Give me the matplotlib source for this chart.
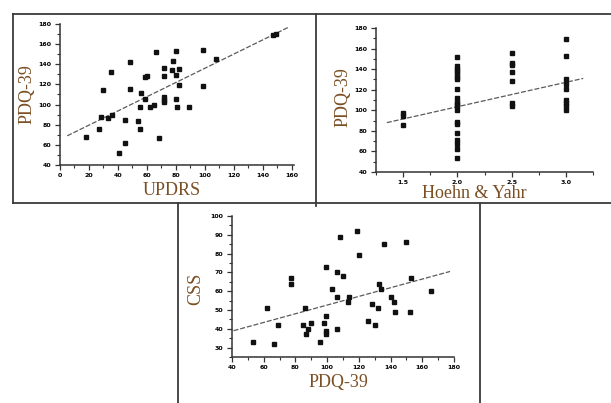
import numpy as np
import matplotlib
matplotlib.use("Agg")
import matplotlib.pyplot as plt
from matplotlib.lines import Line2D
from matplotlib.ticker import MultipleLocator

# panel 1: UPDRS vs PDQ-39
updrs = [18, 27, 28, 30, 33, 35, 36, 41, 45, 45, 48, 48, 54, 55, 55, 56, 59, 60,
         59, 62, 65, 66, 68, 72, 72, 72, 72, 72, 77, 78, 80, 80, 80, 81, 82, 82,
         89, 99, 99, 108, 147, 149]
pdq_u = [68, 76, 88, 114, 87, 132, 90, 52, 85, 62, 142, 115, 84, 76, 98, 111,
         127, 128, 106, 98, 100, 152, 67, 128, 136, 108, 105, 103, 134, 143, 153,
         129, 106, 98, 135, 119, 98, 154, 118, 145, 169, 170]
trend_u_x = [5, 158]
trend_u_y = [69, 177]

# panel 2: Hoehn & Yahr stage vs PDQ-39
hy_stages = [1.5, 2.0, 2.5, 3.0]
pdq_by_stage = [
    [97, 94, 86],
    [152, 143, 140, 138, 135, 132, 130, 121, 112, 108, 106, 104, 100, 89, 87,
     78, 71, 67, 62, 54],
    [156, 146, 144, 137, 128, 107, 104],
    [169, 153, 130, 126, 121, 110, 107, 104, 100],
]
trend_h_x = [1.35, 3.16]
trend_h_y = [88, 131]

# panel 3: PDQ-39 vs CSS
pdq_c = [53, 62, 66.5, 69, 77, 77, 85, 86, 86.5, 88, 90, 95.5, 98, 99, 99, 99,
         99, 103, 106, 106, 106, 108, 110, 113, 114, 119, 120, 126, 128, 130,
         132, 133, 134, 136, 140, 142, 143, 150, 152, 153, 165.5]
css = [33, 51, 32, 42, 67, 64, 42, 51, 37, 40, 43, 33, 43, 73, 47, 39, 37, 61,
       70, 57, 40, 89, 68, 54, 57, 92, 79, 44, 53, 42, 51, 64, 61, 85, 57, 54,
       49, 86, 49, 67, 60]
trend_c_x = [41, 177.5]
trend_c_y = [39, 70.5]

W, H = 611, 403
label_color = "#7b4f24"
serif = "Liberation Serif"


def px_axes(fig, left, right, top, bottom):
    return fig.add_axes([left / W, 1 - bottom / H, (right - left) / W, (bottom - top) / H])


def style(ax):
    for s in ["top", "right"]:
        ax.spines[s].set_visible(False)
    for s in ["left", "bottom"]:
        ax.spines[s].set_color("#333333")
        ax.spines[s].set_linewidth(1.1)
    ax.tick_params(which="major", length=3.5, width=0.9, color="#333333",
                   labelsize=4.5, pad=2.5)
    ax.tick_params(which="minor", length=2.5, width=0.8, color="#333333")
    for lab in ax.get_xticklabels() + ax.get_yticklabels():
        lab.set_fontweight("bold")


fig = plt.figure(figsize=(W / 100, H / 100), dpi=100)
fig.patch.set_facecolor("white")

dash = (0, (4, 1.5))
dot_kw = dict(marker="s", ms=2.6, color="#111111", ls="none")
trend_kw = dict(ls=dash, color="#5a5a5a", lw=0.9)

# panel 1
ax1 = px_axes(fig, 60, 294, 24, 165)
ax1.plot(trend_u_x, trend_u_y, **trend_kw)
ax1.plot(updrs, pdq_u, **dot_kw)
ax1.set_xlim(0, 161.5)
ax1.set_ylim(40, 180)
ax1.set_xticks(range(0, 161, 20))
ax1.set_yticks(range(40, 181, 20))
ax1.xaxis.set_minor_locator(MultipleLocator(10))
ax1.yaxis.set_minor_locator(MultipleLocator(10))
style(ax1)

# panel 2
ax2 = px_axes(fig, 376, 593, 28, 172)
ax2.plot(trend_h_x, trend_h_y, **trend_kw)
for stage, vals in zip(hy_stages, pdq_by_stage):
    ax2.plot(np.full(len(vals), stage), vals, **dot_kw)
ax2.set_xlim(1.25, 3.25)
ax2.set_ylim(40, 180)
ax2.set_xticks(hy_stages)
ax2.set_xticklabels(["1.5", "2.0", "2.5", "3.0"])
ax2.set_yticks(range(40, 181, 20))
ax2.xaxis.set_minor_locator(MultipleLocator(0.25))
ax2.yaxis.set_minor_locator(MultipleLocator(10))
style(ax2)

# panel 3
ax3 = px_axes(fig, 232, 454, 216, 357)
ax3.plot(trend_c_x, trend_c_y, **trend_kw)
ax3.plot(pdq_c, css, **dot_kw)
ax3.set_xlim(40, 180)
ax3.set_ylim(25, 100)
ax3.set_xticks(range(40, 181, 20))
ax3.set_yticks(range(30, 101, 10))
ax3.xaxis.set_minor_locator(MultipleLocator(10))
ax3.yaxis.set_minor_locator(MultipleLocator(5))
style(ax3)

# axis titles
def ftext(x, y, s, rot=0):
    fig.text(x / W, 1 - y / H, s, ha="center", va="center", rotation=rot,
             family=serif, fontsize=13, color=label_color)


ftext(27, 94, "PDQ-39", 90)
ftext(172, 191, "UPDRS")
ftext(343, 97, "PDQ-39", 90)
ftext(474, 194, "Hoehn & Yahr")
ftext(196, 289, "CSS", 90)
ftext(338, 383, "PDQ-39")

# panel frames
frame = [
    ((13, 611), (14, 14)),
    ((13, 611), (203, 203)),
    ((13, 13), (14, 203)),
    ((316, 316), (14, 206)),
    ((178, 178), (203, 403)),
    ((480, 480), (203, 403)),
]
for xs, ys in frame:
    fig.add_artist(Line2D([x / W for x in xs], [1 - y / H for y in ys],
                          color="#3a3a3a", lw=1.3))

fig.savefig("out.png", dpi=100)
